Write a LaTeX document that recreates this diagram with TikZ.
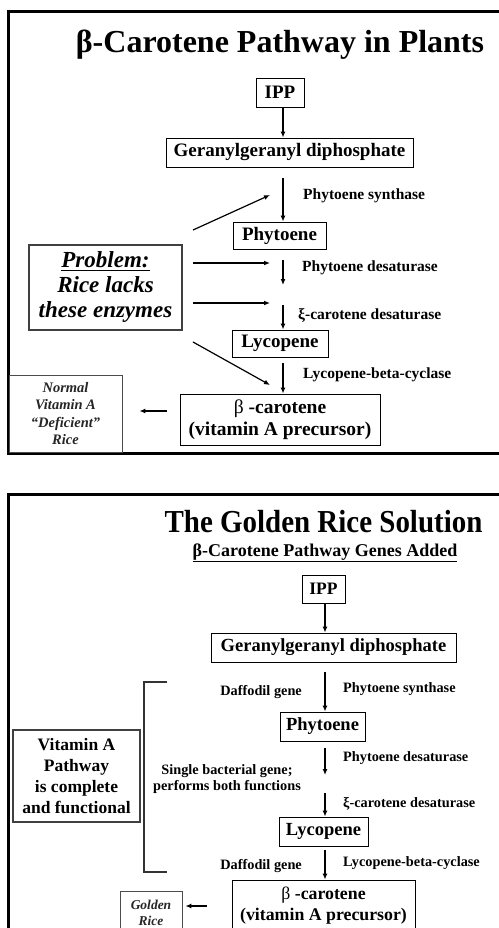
\documentclass[tikz,border=0pt]{standalone}
\usepackage{fontspec}
\setmainfont{Liberation Serif}
\usetikzlibrary{arrows.meta}
\begin{document}
\begin{tikzpicture}[x=1pt,y=-1pt,
  frame/.style={line width=3pt,black},
  box/.style={draw,line width=0.9pt,inner sep=0pt,font=\bfseries\fontsize{19}{21}\selectfont},
  boxs/.style={draw,line width=0.9pt,inner sep=0pt,font=\bfseries\fontsize{18.5}{21}\selectfont},
  enz/.style={inner sep=0pt,font=\bfseries\fontsize{15.5}{17}\selectfont},
  enzs/.style={inner sep=0pt,font=\bfseries\fontsize{14.3}{16}\selectfont},
  arr/.style={-{Latex[length=6pt,width=5pt]},line width=1.8pt},
  tarr/.style={-{Latex[length=6pt,width=5pt]},line width=1.2pt},
  sideb/.style={draw=black!70,line width=0.8pt,inner sep=0pt,align=center,text=black!85}
]
\useasboundingbox (0,0) rectangle (498,928);
\fill[white] (0,0) rectangle (498,928);

% ================= TOP PANEL =================
\draw[frame] (502,12) -- (8,12) -- (8,453) -- (502,453);
\node[anchor=base,inner sep=0pt,font=\bfseries\fontsize{32}{34}\selectfont] (t1) at (280,53) {β-Carotene Pathway in Plants};

\coordinate (ax1) at (283,0);
\node[box,minimum width=48pt,minimum height=29pt] (ipp1) at (280,92.5) {IPP};
\node[box,minimum width=247pt,minimum height=29pt] (ger1) at (289.5,152.5) {Geranylgeranyl diphosphate};
\node[box,minimum width=93pt,minimum height=27pt] (phy1) at (279.5,235.5) {Phytoene};
\node[box,minimum width=96pt,minimum height=27pt] (lyc1) at (280,343.5) {Lycopene};
\node[box,minimum width=200pt,minimum height=51pt,align=center,font=\bfseries\fontsize{19.5}{22}\selectfont] (bc1) at (280,419.5) {{\mdseries β} -carotene\\(vitamin A precursor)};

\node[draw=black!75,line width=1.2pt,minimum width=153pt,minimum height=85pt,inner sep=0pt,align=center,font=\bfseries\itshape\fontsize{23}{25}\selectfont] (prob) at (105.5,287.5) {\underline{Problem:}\\Rice lacks\\these enzymes};
\node[sideb,minimum width=113pt,minimum height=77pt,font=\bfseries\itshape\fontsize{14.5}{17.5}\selectfont] (norm) at (65.5,413.5) {Normal\\Vitamin A\\“Deficient”\\Rice};

\coordinate (m1a) at (283,260);
\coordinate (m1b) at (283,285);
\coordinate (m2a) at (283,305);
\draw[arr] (ipp1.south -| ax1) -- (ger1.north -| ax1);
\draw[arr,shorten <=11pt] (ger1.south -| ax1) -- (phy1.north -| ax1);
\draw[arr] (m1a) -- (m1b);
\draw[arr] (m2a) -- (lyc1.north -| ax1);
\draw[arr,shorten <=6pt] (lyc1.south -| ax1) -- (bc1.north -| ax1);
\draw[arr,shorten <=13pt,shorten >=17pt] (bc1.west |- 0,411) -- (norm.east |- 0,411);

\coordinate (d1s) at (193,230);
\coordinate (d1e) at (270,195);
\coordinate (h1s) at (193,263);
\coordinate (h1e) at (270,263);
\coordinate (h2s) at (193,303);
\coordinate (h2e) at (270,303);
\coordinate (d2s) at (193,342);
\coordinate (d2e) at (270,385);
\draw[tarr] (d1s) -- (d1e);
\draw[tarr] (h1s) -- (h1e);
\draw[arr,line width=1.6pt] (h2s) -- (h2e);
\draw[tarr] (d2s) -- (d2e);

\node[enz,anchor=base west] (e1) at (303,200) {Phytoene synthase};
\node[enz,anchor=base west] (e2) at (302,271) {Phytoene desaturase};
\node[enz,anchor=base west] (e3) at (298,319) {ξ-carotene desaturase};
\node[enz,anchor=base west] (e4) at (303,378) {Lycopene-beta-cyclase};

% ================= BOTTOM PANEL =================
\draw[frame] (502,494) -- (8,494) -- (8,932);
\node[anchor=base,inner sep=0pt,font=\bfseries\fontsize{32}{34}\selectfont] (t2) at (323.5,532) {\scalebox{0.905}[1]{The Golden Rice Solution}};
\node[anchor=base,inner sep=0pt,font=\bfseries\fontsize{18}{20}\selectfont] (st2) at (325,556) {\underline{β-Carotene Pathway Genes Added}};

\coordinate (ax2) at (325,0);
\node[boxs,minimum width=43pt,minimum height=28pt,font=\bfseries\fontsize{17.5}{20}\selectfont] (ipp2) at (323.5,589) {IPP};
\node[boxs,minimum width=245pt,minimum height=29pt] (ger2) at (333.5,647.5) {Geranylgeranyl diphosphate};
\node[boxs,minimum width=85pt,minimum height=29pt] (phy2) at (322.5,726.5) {Phytoene};
\node[boxs,minimum width=89pt,minimum height=29pt] (lyc2) at (323.5,831.5) {Lycopene};
\node[boxs,minimum width=183pt,minimum height=51pt,align=center,font=\bfseries\fontsize{17.8}{21}\selectfont] (bc2) at (323.5,905.5) {{\mdseries β} -carotene\\(vitamin A precursor)};
\node[sideb,minimum width=62pt,minimum height=44pt,font=\bfseries\itshape\fontsize{13.5}{16}\selectfont] (gold) at (151,913) {Golden\\Rice};
\node[draw=black!75,line width=1.2pt,minimum width=127pt,minimum height=92pt,inner sep=0pt,align=center,font=\bfseries\fontsize{17.5}{21}\selectfont] (vit) at (76.5,776) {Vitamin A\\Pathway\\is complete\\and functional};

\coordinate (n1a) at (325,775);
\coordinate (n2a) at (325,793);
\draw[arr] (ipp2.south -| ax2) -- (ger2.north -| ax2);
\draw[arr,shorten <=10pt] (ger2.south -| ax2) -- (phy2.north -| ax2);
\draw[arr,shorten <=7pt] (phy2.south -| ax2) -- (n1a);
\draw[arr] (n2a) -- (lyc2.north -| ax2);
\draw[arr,shorten <=4pt] (lyc2.south -| ax2) -- (bc2.north -| ax2);
\draw[arr,shorten <=25pt,shorten >=3pt] (bc2.west |- 0,906) -- (gold.east |- 0,906);

\coordinate (br1) at (167,682);
\coordinate (br2) at (167,872);
\draw[line width=1.8pt,black!80] (br1) -- (144,682) -- (144,872) -- (br2);

\node[enzs,anchor=base east] (g1) at (302,695) {Daffodil gene};
\node[enzs,anchor=base east] (g2) at (302,869) {Daffodil gene};
\node[enzs,align=center,font=\bfseries\fontsize{14.3}{16}\selectfont] (sb) at (227,779) {Single bacterial gene;\\performs both functions};
\node[enzs,anchor=base west] (f1) at (343,692) {Phytoene synthase};
\node[enzs,anchor=base west] (f2) at (343,761) {Phytoene desaturase};
\node[enzs,anchor=base west] (f3) at (343,807) {ξ-carotene desaturase};
\node[enzs,anchor=base west] (f4) at (343,866) {Lycopene-beta-cyclase};
\end{tikzpicture}
\end{document}
